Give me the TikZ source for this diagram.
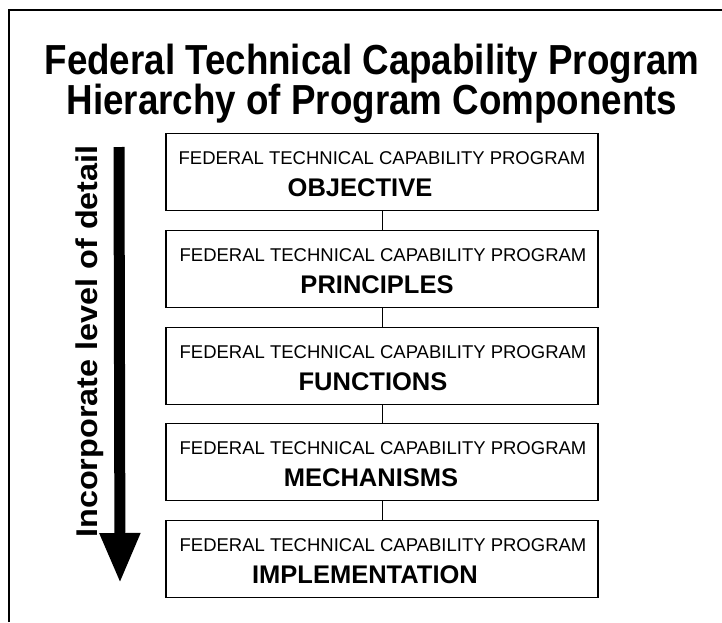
\documentclass[tikz,border=0pt]{standalone}
\usepackage{fontspec}
\setmainfont{Liberation Sans}
\usetikzlibrary{arrows.meta}
\tikzset{
  compbox/.style={draw, line width=1.4pt, fill=white, minimum width=432pt, minimum height=77pt, anchor=north, inner sep=0pt},
  smalltxt/.style={anchor=base, inner sep=0pt, font=\fontsize{18.5}{20}\selectfont},
  boldtxt/.style={anchor=base, inner sep=0pt, font=\fontsize{25.5}{28}\selectfont\bfseries},
  titletxt/.style={anchor=base, inner sep=0pt, font=\fontsize{42}{46}\selectfont\bfseries},
  conn/.style={line width=1pt},
  framel/.style={line width=2.5pt}
}
\begin{document}
\begin{tikzpicture}[x=1pt,y=-1pt]
\useasboundingbox (0,0) rectangle (722,622);
% frame
\coordinate (fr1) at (9,622);
\coordinate (fr2) at (9,10);
\coordinate (fr3) at (722,10);
\draw[framel] (fr1) -- (fr2) -- (fr3);
% title
\node[titletxt] (t1) at (372,74) {\scalebox{0.875}[1]{Federal Technical Capability Program}};
\node[titletxt] (t2) at (372,114) {\scalebox{0.875}[1]{Hierarchy of Program Components}};
% boxes
\node[compbox] (b1) at (382,133) {};
\node[compbox] (b2) at (382,230) {};
\node[compbox] (b3) at (382,327) {};
\node[compbox] (b4) at (382,423) {};
\node[compbox] (b5) at (382,520) {};
% connectors
\draw[conn] (b1.south) -- (b2.north);
\draw[conn] (b2.south) -- (b3.north);
\draw[conn] (b3.south) -- (b4.north);
\draw[conn] (b4.south) -- (b5.north);
% texts
\node[smalltxt] (s1) at (382,164.5) {FEDERAL TECHNICAL CAPABILITY PROGRAM};
\node[smalltxt] (s2) at (383,261.5) {FEDERAL TECHNICAL CAPABILITY PROGRAM};
\node[smalltxt] (s3) at (383,358.5) {FEDERAL TECHNICAL CAPABILITY PROGRAM};
\node[smalltxt] (s4) at (383,454.5) {FEDERAL TECHNICAL CAPABILITY PROGRAM};
\node[smalltxt] (s5) at (383,551.5) {FEDERAL TECHNICAL CAPABILITY PROGRAM};
\node[boldtxt] (o1) at (360,196) {OBJECTIVE};
\node[boldtxt] (o2) at (377,293) {PRINCIPLES};
\node[boldtxt] (o3) at (373,390) {FUNCTIONS};
\node[boldtxt] (o4) at (371,486) {MECHANISMS};
\node[boldtxt] (o5) at (365,583) {IMPLEMENTATION};
% arrow
\coordinate (atop) at (119,147);
\coordinate (abot) at (120,583);
\draw[line width=11pt, -{Triangle[width=38pt,length=50pt]}] (atop) -- (abot);
\node[anchor=base, inner sep=0pt, rotate=90, font=\fontsize{30}{32}\selectfont\bfseries] (lab) at (97,341.5) {\scalebox{1.08}[1]{Incorporate level of detail}};
\end{tikzpicture}
\end{document}
